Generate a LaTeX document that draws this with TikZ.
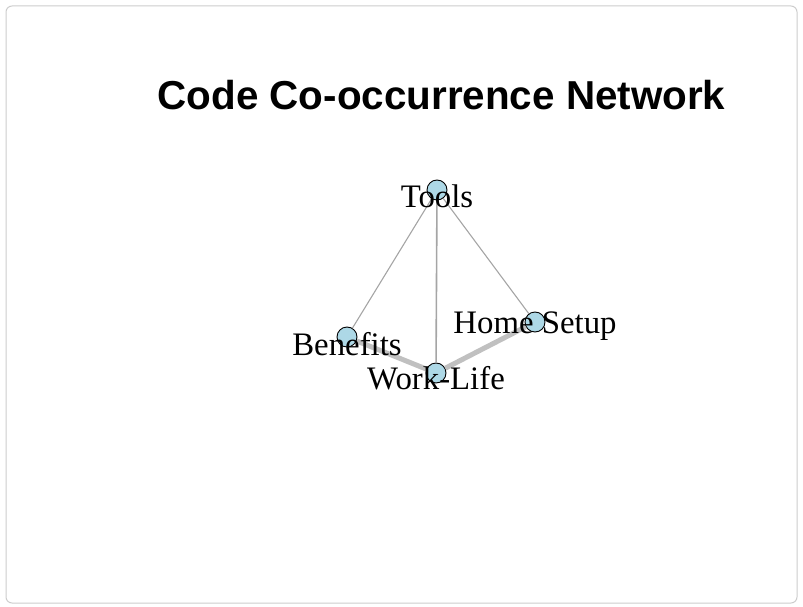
\documentclass[tikz,border=0pt]{standalone}
\usepackage{fontspec}
\setmainfont{Liberation Serif}
\newfontfamily\titlefont{Liberation Sans}
\definecolor{vertexblue}{RGB}{173,216,230}
\definecolor{edgegray}{RGB}{165,165,165}
\definecolor{heavygray}{RGB}{192,192,192}
\definecolor{framegray}{RGB}{205,205,205}

\begin{document}
\begin{tikzpicture}[x=1pt, y=-1pt,
    vertex/.style={circle, draw=black, fill=vertexblue, minimum size=20pt, inner sep=0pt, line width=0.9pt},
    vlabel/.style={anchor=base, inner sep=0pt, font=\fontsize{32.8}{36}\selectfont},
    lightedge/.style={edgegray, line width=1.1pt},
    heavyedge/.style={heavygray, line width=5pt}]
  \useasboundingbox (0,0) rectangle (803,607);
  \draw [framegray, rounded corners=6pt, line width=1pt] (6,6) rectangle (797,603);
  \node [font=\titlefont\bfseries\fontsize{40.4}{44}\selectfont] (title) at (441.5, 95) {Code Co-occurrence Network};
  \foreach \N/\X/\Y in {tools/437/190, benefits/347/337, worklife/436/373, homesetup/535/322} {
    \node [vertex] (\N) at (\X, \Y) {};
  }
  \foreach \A/\B in {tools/benefits, tools/homesetup} {
    \draw [lightedge] (\A) -- (\B);
  }
  \draw [lightedge, line width=1.6pt] (tools) -- (worklife);
  \foreach \A/\B in {benefits/worklife, worklife/homesetup} {
    \draw [heavyedge] (\A) -- (\B);
  }
  \foreach \N/\T/\S in {tools/Tools/17, benefits/Benefits/18, worklife/Work-Life/16, homesetup/Home Setup/11} {
    \node [vlabel] (\N-text) at ([yshift=-\S pt]\N.center) {\T};
  }
\end{tikzpicture}
\end{document}
